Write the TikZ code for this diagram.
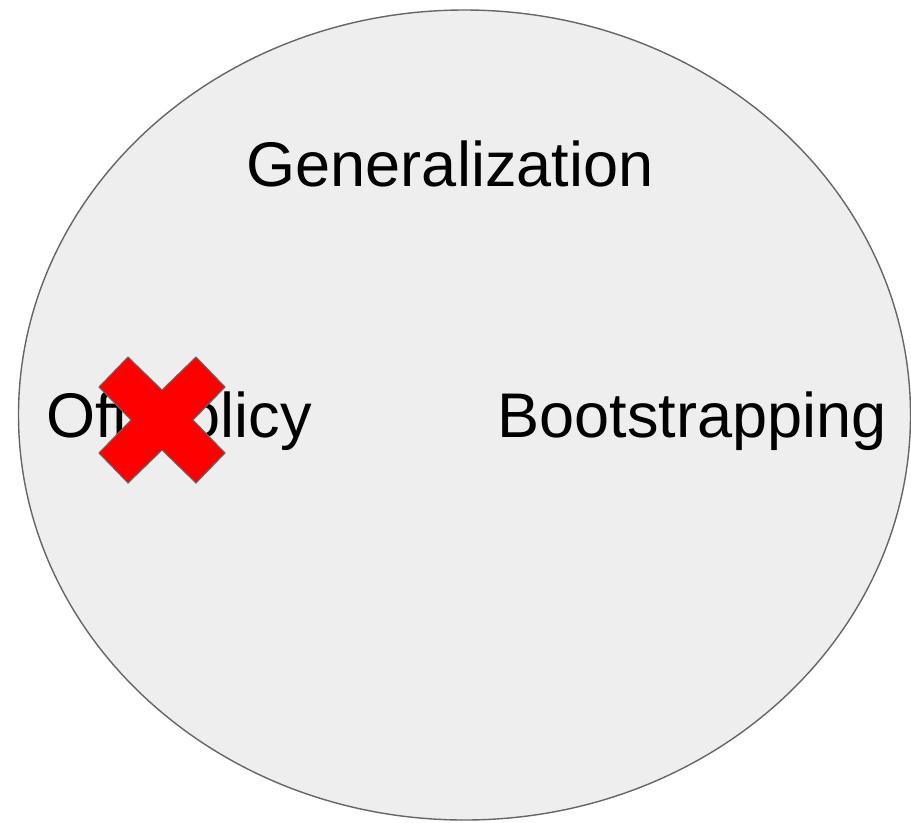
\documentclass[tikz,border=0pt]{standalone}
\usepackage{fontspec}
\setmainfont{Liberation Sans}

\definecolor{setfill}{HTML}{EEEEEE}
\definecolor{setline}{HTML}{666666}

\tikzset{
  setlabel/.style={anchor=base,inner sep=0pt,font=\fontsize{35.9}{43}\selectfont},
}

\begin{document}
\begin{tikzpicture}[x=0.02cm,y=-0.02cm]
    \useasboundingbox (0,0) rectangle (911,822);
    \draw[setline,fill=setfill,line width=0.8pt] (464.5,415) ellipse (446 and 405);
    \node[setlabel] (gen) at (450,186) {Generalization};
    \node[setlabel] (offp) at (179,437) {Off-policy};
    \node[setlabel] (boot) at (692,437) {Bootstrapping};
    % cross over the crossed-out label
    \coordinate (cross) at (162,420);
    \draw[setline,fill=red,line width=0.6pt,shift={(cross)}]
      (-63,-33) -- (-34,-63) -- (0,-30) -- (34,-63) -- (63,-33) -- (31,0)
      -- (63,33) -- (34,63) -- (0,30) -- (-34,63) -- (-63,33) -- (-31,0) -- cycle;
  \end{tikzpicture}
\end{document}
